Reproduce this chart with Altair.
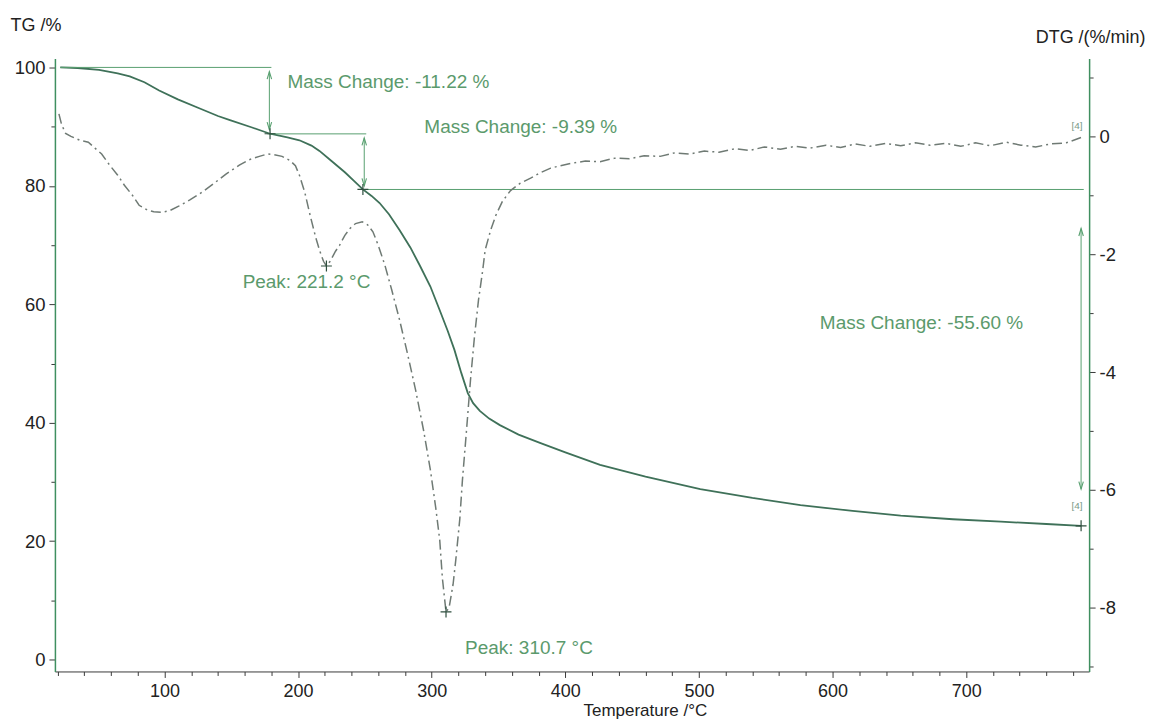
import altair as alt
import pandas as pd

# ---------------- data ----------------
tg_temp = [22, 35, 51, 65, 74, 85, 96, 110, 126, 140, 149, 165, 179, 192, 201, 210, 216,
           225, 235, 242, 248.5, 255, 261, 268, 276, 284, 291, 299, 306, 312, 317, 322,
           327, 331, 336, 343, 351, 365, 381, 400, 426, 460, 501, 540, 576, 615, 651,
           690, 726, 760, 786]
tg_vals = [100.0, 99.9, 99.6, 99.0, 98.5, 97.5, 96.1, 94.6, 93.1, 91.8, 91.1, 89.9, 88.8,
           88.2, 87.7, 86.8, 85.9, 84.2, 82.3, 80.8, 79.4, 78.3, 77.1, 75.2, 72.5, 69.6,
           66.6, 63.0, 59.0, 55.5, 52.3, 48.5, 45.0, 43.3, 42.0, 40.7, 39.6, 38.0, 36.6,
           35.0, 32.9, 30.9, 28.8, 27.3, 26.1, 25.1, 24.3, 23.7, 23.3, 22.9, 22.6]

dtg_temp = [21, 23, 26, 30, 37, 43, 48, 53, 59, 65, 70, 76, 81, 87, 92, 98, 104, 111, 119,
            128, 137, 146, 156, 163, 171, 177, 182, 188, 194, 198, 201, 205, 209, 213, 216,
            219, 221.2, 224, 228, 231, 235, 239, 243, 248, 252, 256, 260, 265, 270, 276,
            282, 288, 294, 299, 303, 306, 308, 310.7, 313, 316, 318, 321, 323, 326, 329,
            332, 335, 338, 340, 344, 348, 353, 359, 366, 374, 381, 389, 396, 404, 415, 426,
            437, 448, 459, 471, 482, 493, 504, 515, 527, 538, 549, 561, 572, 583, 595, 606,
            617, 628, 640, 651, 662, 673, 685, 696, 707, 718, 730, 741, 752, 763, 775, 786]
dtg_vals = [0.38, 0.20, 0.05, 0.00, -0.07, -0.10, -0.20, -0.30, -0.49, -0.66, -0.83, -1.00,
            -1.17, -1.25, -1.28, -1.29, -1.26, -1.18, -1.08, -0.95, -0.80, -0.64, -0.49,
            -0.40, -0.34, -0.30, -0.31, -0.34, -0.41, -0.50, -0.66, -0.95, -1.34, -1.70,
            -1.93, -2.12, -2.20, -2.12, -1.95, -1.85, -1.68, -1.56, -1.48, -1.45, -1.50,
            -1.62, -1.85, -2.19, -2.60, -3.12, -3.70, -4.31, -5.00, -5.66, -6.30, -6.85,
            -7.50, -8.07, -8.00, -7.60, -7.19, -6.50, -5.83, -5.00, -4.14, -3.40, -2.78,
            -2.30, -1.93, -1.60, -1.34, -1.10, -0.92, -0.80, -0.71, -0.62, -0.54, -0.50,
            -0.46, -0.42, -0.43, -0.37, -0.38, -0.33, -0.34, -0.28, -0.30, -0.25, -0.27,
            -0.21, -0.24, -0.18, -0.22, -0.17, -0.20, -0.15, -0.19, -0.13, -0.17, -0.12,
            -0.16, -0.11, -0.15, -0.12, -0.17, -0.11, -0.16, -0.10, -0.15, -0.18, -0.13,
            -0.11, -0.02]

# mass-change step annotations (TG units)
step_levels = [100.0, 88.78, 79.39]
step_from = [22, 177, 248]
step_to = [180, 251, 788]
arrow_temp = [178.5, 249.5, 786]
arrow_top = [99.3, 88.1, 72.8]
arrow_bottom = [89.5, 80.0, 28.8]
step_points_temp = [179, 248.5, 786]
step_points_tg = [88.8, 79.4, 22.6]

mass_labels = ["Mass Change: -11.22 %", "Mass Change: -9.39 %", "Mass Change: -55.60 %",
               "Peak: 221.2 °C", "Peak: 310.7 °C"]
mass_label_temp = [192, 294.5, 590.5, 158.5, 325]
mass_label_tg = [97.5, 89.9, 56.8, 63.7, 2.0]

peak_temp = [221.2, 310.7]
peak_dtg = [-2.2, -8.07]

small_labels = ["[4]"]
small_tg_pos = [(783, 26.0)]
small_dtg_pos = [(783, 0.17)]

x_ticks = list(range(20, 791, 20))
tg_ticks = list(range(0, 101, 10))
dtg_ticks = list(range(1, -10, -1))

# ---------------- styling ----------------
FONT = "Liberation Sans"
TG_COL = "#3f7159"
DTG_COL = "#6f7a74"
ANN_COL = "#58a070"
TXT_COL = "#5b9a6c"
AX_GREEN = "#3f8f60"

UP = "M-0.45,1.5L0,0L0.45,1.5"
PLUS = "M-1,0L1,0M0,-1L0,1"

xscale = alt.Scale(domain=[18, 792], nice=False, zero=False)
tgscale = alt.Scale(domain=[-2.0, 101.5], nice=False, zero=False)
dtgscale = alt.Scale(domain=[-9.08, 1.32], nice=False, zero=False)

xaxis = alt.Axis(
    values=x_ticks,
    labelExpr="datum.value % 100 === 0 ? '' + datum.value : ''",
    tickSize={"condition": {"test": "datum.value % 100 === 0", "value": 6}, "value": 4},
    domainColor="#3a3a3a", tickColor="#3a3a3a", labelColor="#222222",
    labelFont=FONT, labelFontSize=18, labelPadding=5, grid=False,
    title="Temperature /°C", titleFont=FONT, titleFontSize=17, titleFontWeight="normal",
    titleColor="#222222", titleX=591, titleY=44, titleAlign="center",
    titleBaseline="alphabetic", titleAngle=0,
)
tgaxis = alt.Axis(
    orient="left", values=tg_ticks,
    labelExpr="datum.value % 20 === 0 ? '' + datum.value : ''",
    tickSize={"condition": {"test": "datum.value % 20 === 0", "value": 6}, "value": 4},
    domainColor=AX_GREEN, domainWidth=1.5, tickColor="#3a3a3a", labelColor="#222222",
    labelFont=FONT, labelFontSize=18.5, labelPadding=4, grid=False,
    title="TG /%", titleFont=FONT, titleFontSize=18, titleFontWeight="normal",
    titleColor="#222222", titleAngle=0, titleX=-45, titleY=-28,
    titleAlign="left", titleBaseline="alphabetic",
)
dtgaxis = alt.Axis(
    orient="right", values=dtg_ticks,
    labelExpr="datum.value % 2 === 0 ? '' + datum.value : ''",
    tickSize={"condition": {"test": "datum.value % 2 === 0", "value": 6}, "value": 4},
    domainColor=AX_GREEN, domainWidth=1.5, tickColor="#3a3a3a", labelColor="#222222",
    labelFont=FONT, labelFontSize=18.5, labelPadding=4, grid=False,
    title="DTG /(%/min)", titleFont=FONT, titleFontSize=18, titleFontWeight="normal",
    titleColor="#222222", titleAngle=0, titleX=-54, titleY=-16,
    titleAlign="left", titleBaseline="alphabetic",
)

X = alt.X("T:Q", scale=xscale, axis=xaxis)
X2 = alt.X2("T2:Q")
YTG = alt.Y("TG:Q", scale=tgscale, axis=tgaxis)
YTG2 = alt.Y2("TG2:Q")
YDTG = alt.Y("DTG:Q", scale=dtgscale, axis=dtgaxis)

# ---------------- frames ----------------
tg_df = pd.DataFrame({"T": tg_temp, "TG": tg_vals})
dtg_df = pd.DataFrame({"T": dtg_temp, "DTG": dtg_vals})
steps_df = pd.DataFrame({"T": step_from, "T2": step_to, "TG": step_levels})
arrows_df = pd.DataFrame({"T": arrow_temp, "TG": arrow_top, "TG2": arrow_bottom})
arrow_up_df = pd.DataFrame({"T": arrow_temp, "TG": arrow_top})
arrow_dn_df = pd.DataFrame({"T": arrow_temp, "TG": arrow_bottom})
stepped_df = pd.DataFrame({"T": step_points_temp, "TG": step_points_tg})
labels_df = pd.DataFrame({"T": mass_label_temp, "TG": mass_label_tg, "label": mass_labels})
peaks_df = pd.DataFrame({"T": peak_temp, "DTG": peak_dtg})
small_tg_df = pd.DataFrame({"T": [p[0] for p in small_tg_pos], "TG": [p[1] for p in small_tg_pos],
                            "label": small_labels})
small_dtg_df = pd.DataFrame({"T": [p[0] for p in small_dtg_pos], "DTG": [p[1] for p in small_dtg_pos],
                             "label": small_labels})

# ---------------- TG layers ----------------
tg_line = alt.Chart(tg_df).mark_line(color=TG_COL, strokeWidth=1.8).encode(x=X, y=YTG)
steps = alt.Chart(steps_df).mark_rule(color=ANN_COL, strokeWidth=1).encode(x=X, x2=X2, y=YTG)
arrows = alt.Chart(arrows_df).mark_rule(color=ANN_COL, strokeWidth=1).encode(x=X, y=YTG, y2=YTG2)
arr_up = alt.Chart(arrow_up_df).mark_point(shape=UP, filled=False, size=100, color=ANN_COL,
                                           strokeWidth=1.1, opacity=1).encode(x=X, y=YTG)
arr_dn = alt.Chart(arrow_dn_df).mark_point(shape=UP, angle=180, filled=False, size=100,
                                           color=ANN_COL, strokeWidth=1.1, opacity=1).encode(x=X, y=YTG)
stepped = alt.Chart(stepped_df).mark_point(shape=PLUS, filled=False, size=120, color="#2f4f3f",
                                           strokeWidth=1.2, opacity=1).encode(x=X, y=YTG)
labels = alt.Chart(labels_df).mark_text(align="left", baseline="middle", font=FONT,
                                        fontSize=19, color=TXT_COL).encode(x=X, y=YTG, text="label:N")
small_tg = alt.Chart(small_tg_df).mark_text(align="center", baseline="middle", font=FONT,
                                            fontSize=10, color="#7a9a88").encode(x=X, y=YTG, text="label:N")

tg_group = alt.layer(tg_line, steps, arrows, arr_up, arr_dn, stepped, labels, small_tg)

# ---------------- DTG layers ----------------
dtg_line = alt.Chart(dtg_df).mark_line(color=DTG_COL, strokeWidth=1.5,
                                       strokeDash=[10, 4, 2, 4]).encode(x=X, y=YDTG)
peaks = alt.Chart(peaks_df).mark_point(shape=PLUS, filled=False, size=120, color="#2f4f3f",
                                       strokeWidth=1.2, opacity=1).encode(x=X, y=YDTG)
small_dtg = alt.Chart(small_dtg_df).mark_text(align="center", baseline="middle", font=FONT,
                                              fontSize=10, color="#7a9a88").encode(x=X, y=YDTG, text="label:N")

dtg_group = alt.layer(dtg_line, peaks, small_dtg)

chart = (
    alt.layer(tg_group, dtg_group)
    .resolve_scale(y="independent")
    .properties(
        width=1036, height=614,
        padding={"left": 47, "top": 50, "right": 63, "bottom": 48},
        autosize=alt.AutoSizeParams(type="none"),
        background="white",
    )
    .configure_view(stroke=None)
)

chart.save("out.html", embed_options={"renderer": "svg", "actions": False})
